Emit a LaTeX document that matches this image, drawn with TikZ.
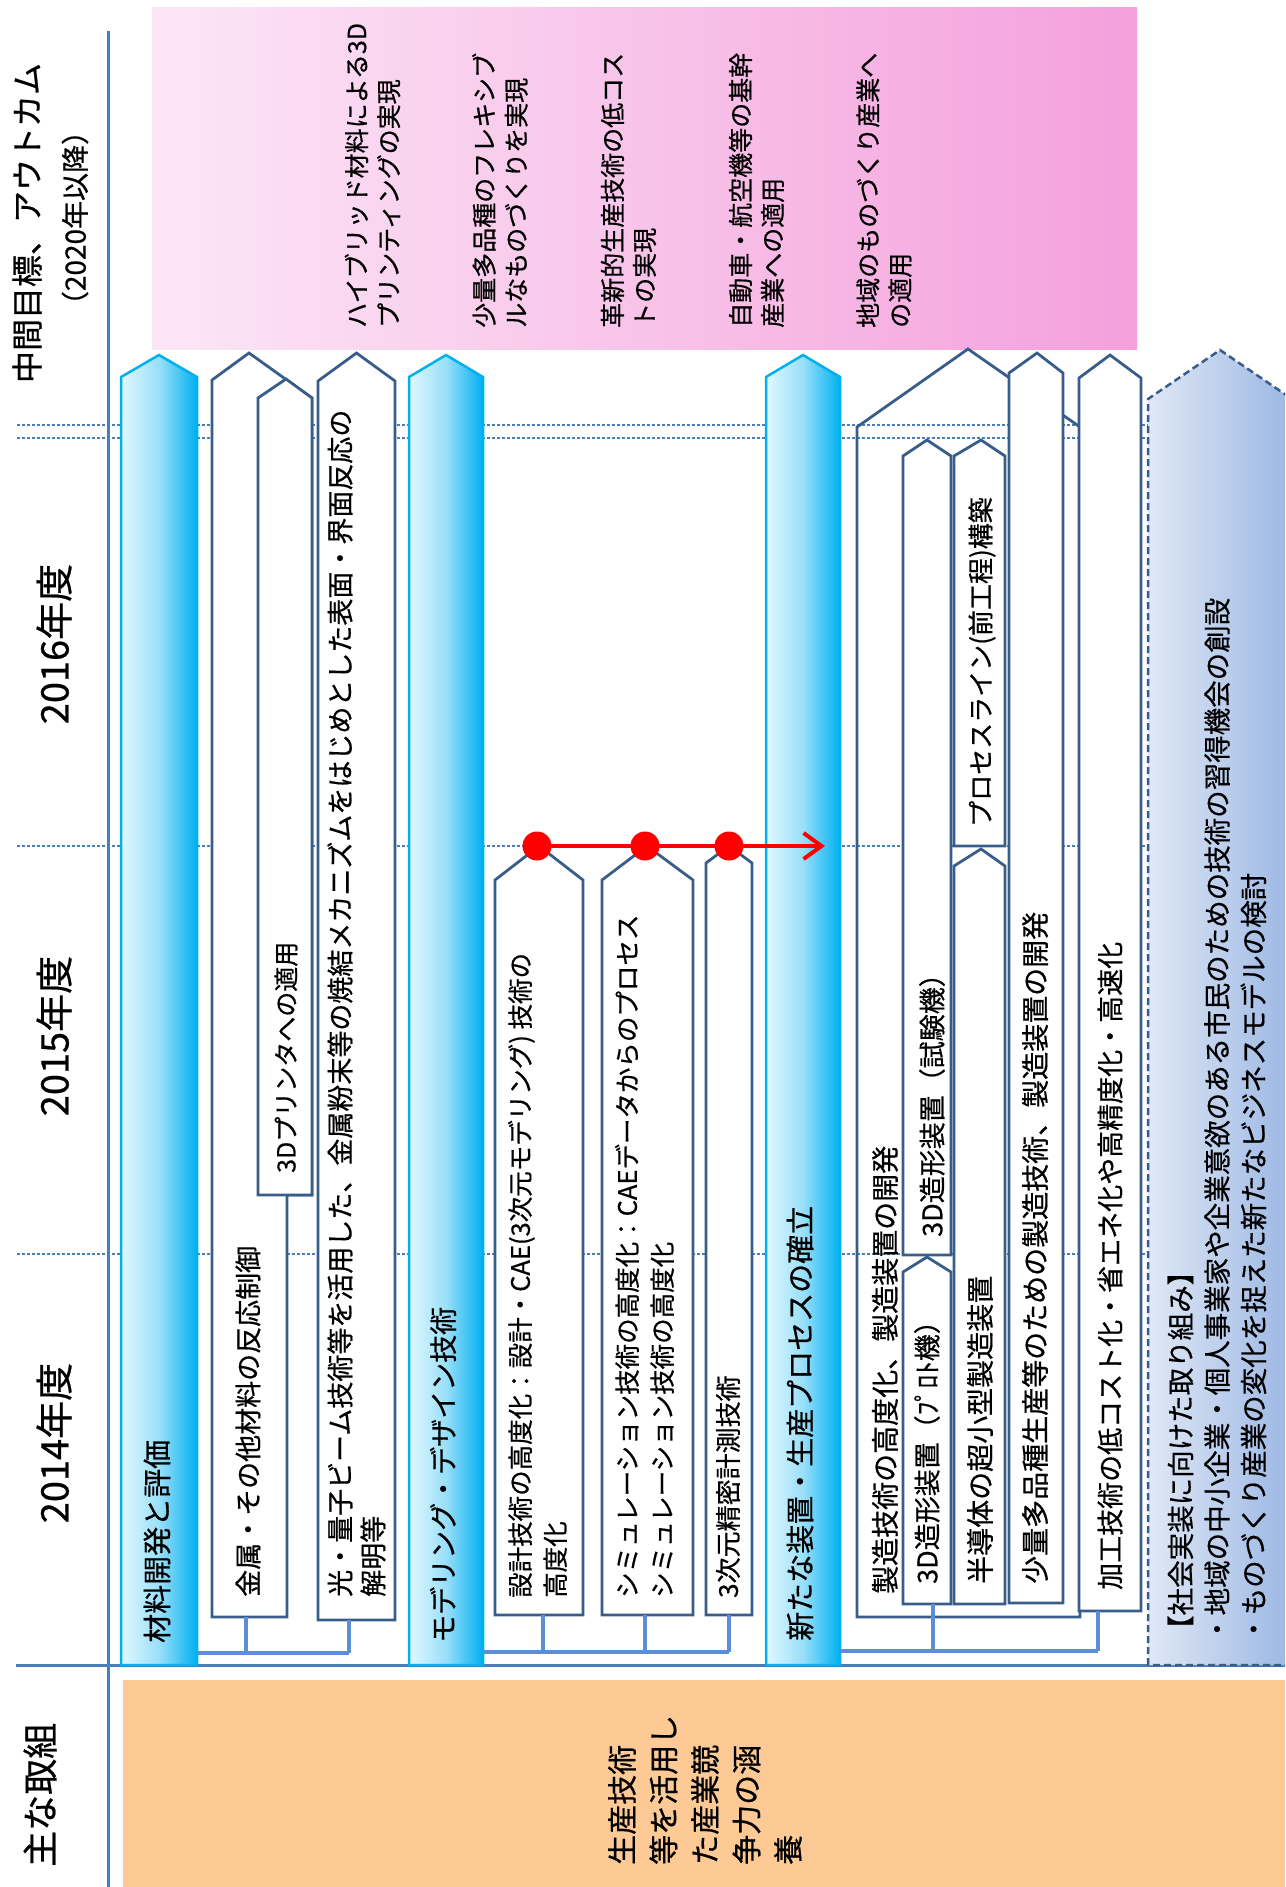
\documentclass[tikz,border=0pt]{standalone}
\usepackage{fontspec}
\setmainfont{Noto Sans CJK JP}[FakeBold=0.6]
\usetikzlibrary{arrows.meta}
\definecolor{axisblue}{RGB}{74,126,187}
\definecolor{boxblue}{RGB}{56,93,138}
\definecolor{connblue}{RGB}{91,142,214}
\definecolor{cyanbar}{RGB}{0,176,240}
\definecolor{cyanlight}{RGB}{226,248,255}
\definecolor{pinkL}{RGB}{252,230,246}
\definecolor{pinkR}{RGB}{244,160,220}
\definecolor{orangebg}{RGB}{253,202,150}
\definecolor{dashL}{RGB}{224,232,245}
\definecolor{dashR}{RGB}{155,183,228}
\newcommand\fsz[2]{\fontsize{#1}{#2}\selectfont}
\tikzset{
  axisline/.style={draw=axisblue, line width=3pt},
  gridline/.style={draw=axisblue, line width=2.5pt, dash pattern=on 2.5pt off 2.5pt},
  bar/.style={draw=cyanbar, line width=2.5pt, left color=cyanlight, right color=cyanbar, middle color=cyanbar!40!white},
  wbox/.style={draw=boxblue, line width=2.8pt, fill=white},
  obox/.style={draw=boxblue, line width=2.8pt},
  dbox/.style={draw=boxblue, line width=2.5pt, dash pattern=on 7pt off 4pt, left color=dashL, right color=dashR},
  conn/.style={draw=connblue, line width=4.5pt},
  redline/.style={draw=red, line width=4pt, -{Straight Barb[length=18pt,width=26pt,line width=4pt]}},
  reddot/.style={circle, fill=red, draw=none, minimum size=29pt, inner sep=0pt},
  vt/.style={rotate=90, anchor=west, inner sep=0pt, align=left, text=black},
  vc/.style={rotate=90, anchor=center, inner sep=0pt, align=center, text=black},
}
\begin{document}
\begin{tikzpicture}[x=1pt,y=-1pt]
\useasboundingbox (0,0) rectangle (1285,1887);
\clip (0,0) rectangle (1285,1887);
% backgrounds
\shade[left color=pinkL, right color=pinkR] (152,7) rectangle (1137,349);
\fill[orangebg] (123,1680) rectangle (1285,1887);
% axes
\draw[axisline] (108,31) -- (108,1887);
\draw[axisline] (16,1665) -- (1285,1665);
% year grid
\draw[gridline] (17,425) -- (1285,425);
\draw[gridline] (17,438) -- (1285,438);
\draw[gridline] (17,846) -- (1285,846);
\draw[gridline] (17,1254) -- (1285,1254);
% bars
\draw[bar] (121,1665) -- (121,377) -- (159,355) -- (197,377) -- (197,1665) -- cycle;
\draw[bar] (409,1665) -- (409,377) -- (446,355) -- (483,377) -- (483,1665) -- cycle;
\draw[bar] (766,1665) -- (766,377) -- (803,355) -- (840,377) -- (840,1665) -- cycle;
% group A boxes
\draw[wbox] (212,1617) -- (212,380) -- (249,353) -- (312,398) -- (312,1195) -- (287,1195) -- (287,1617) -- cycle;
\draw[wbox] (258,1195) -- (258,398) -- (286,379) -- (312,398) -- (312,1195) -- cycle;
\draw[wbox] (318,1620) -- (318,381) -- (356.5,353) -- (395,381) -- (395,1620) -- cycle;
% group B boxes
\draw[wbox] (495,1615) -- (495,880) -- (539,846) -- (583,880) -- (583,1615) -- cycle;
\draw[wbox] (602,1615) -- (602,880) -- (647,846) -- (693,880) -- (693,1615) -- cycle;
\draw[wbox] (706,1615) -- (706,863) -- (729,846) -- (752,863) -- (752,1615) -- cycle;
% group C boxes
\draw[obox] (857,1617) -- (857,427) -- (968,349) -- (1080,427) -- (1080,1617) -- cycle;
\draw[wbox] (903,1255) -- (903,456) -- (927,440) -- (951,456) -- (951,1255) -- cycle;
\draw[wbox] (903,1604) -- (903,1272) -- (927,1257) -- (951,1272) -- (951,1604) -- cycle;
\draw[wbox] (954,846) -- (954,456) -- (981,440) -- (1005,456) -- (1005,846) -- cycle;
\draw[wbox] (954,1604) -- (954,866) -- (981,849) -- (1005,866) -- (1005,1604) -- cycle;
\draw[wbox] (1009,1603) -- (1009,373) -- (1037,353) -- (1063,373) -- (1063,1603) -- cycle;
\draw[wbox] (1079,1611) -- (1079,378) -- (1110,355) -- (1141,378) -- (1141,1611) -- cycle;
% dashed social box
\draw[dbox] (1148,1665) -- (1148,399) -- (1220,350) -- (1292,399) -- (1292,1665) -- cycle;
% connector coordinates
\coordinate (Abar) at (197,1653);
\coordinate (A1b) at (246,1617);
\coordinate (A1j) at (246,1653);
\coordinate (A2b) at (349,1620);
\coordinate (A2j) at (349,1653);
\coordinate (Bbar) at (483,1652);
\coordinate (B1b) at (543,1615);
\coordinate (B1j) at (543,1652);
\coordinate (B2b) at (645,1615);
\coordinate (B2j) at (645,1652);
\coordinate (B3b) at (729,1615);
\coordinate (B3j) at (729,1652);
\coordinate (Cbar) at (840,1651);
\coordinate (C2b) at (933,1604);
\coordinate (C2j) at (933,1651);
\coordinate (C5b) at (1098,1611);
\coordinate (C5j) at (1098,1651);
\draw[conn] (Abar) -- (A2j);
\draw[conn] (A1b) -- (A1j);
\draw[conn] (A2b) -- (A2j);
\draw[conn] (Bbar) -- (B3j);
\draw[conn] (B1b) -- (B1j);
\draw[conn] (B2b) -- (B2j);
\draw[conn] (B3b) -- (B3j);
\draw[conn] (Cbar) -- (C5j);
\draw[conn] (C2b) -- (C2j);
\draw[conn] (C5b) -- (C5j);
% red milestone line
\coordinate (r1) at (537,846);
\coordinate (rend) at (825,846);
\draw[redline] (r1) -- (rend);
\node[reddot] (d1) at (537,846) {};
\node[reddot] (d2) at (645,846) {};
\node[reddot] (d3) at (729,846) {};
% header texts
\node[vc, font=\fsz{32}{38}] (hdr1) at (27,223) {中間目標、アウトカム};
\node[vc, font=\fsz{28}{34}] (hdr2) at (75,218) {（2020年以降）};
\node[vc, font=\fsz{38}{44}] (y16) at (54,644) {2016年度};
\node[vc, font=\fsz{38}{44}] (y15) at (54,1036) {2015年度};
\node[vc, font=\fsz{38}{44}] (y14) at (54,1443) {2014年度};
\node[vt, font=\fsz{36}{42}] (main) at (40,1867) {主な取組};
\node[vt, font=\fsz{30}{41.5}] (goal) at (705,1865) {生産技術\\等を活用し\\た産業競\\争力の涵\\養};
% outcomes
\node[vt, font=\fsz{25}{32}] (o1) at (372.5,328) {ハイブリッド材料による3D\\プリンティングの実現};
\node[vt, font=\fsz{25}{32}] (o2) at (500,328) {少量多品種のフレキシブ\\ルなものづくりを実現};
\node[vt, font=\fsz{25}{32}] (o3) at (628.5,328) {革新的生産技術の低コス\\トの実現};
\node[vt, font=\fsz{25}{32}] (o4) at (756.5,328) {自動車・航空機等の基幹\\産業への適用};
\node[vt, font=\fsz{25}{32}] (o5) at (884,328) {地域のものづくり産業へ\\の適用};
% bar texts
\node[vt, font=\fsz{29}{34}] (tA) at (157,1643) {材料開発と評価};
\node[vt, font=\fsz{28}{34}] (tB) at (443,1643) {モデリング・デザイン技術};
\node[vt, font=\fsz{29}{34}] (tC) at (800,1641) {新たな装置・生産プロセスの確立};
% box texts
\node[vt, font=\fsz{27}{33}] (tA1) at (248,1597) {金属・その他材料の反応制御};
\node[vt, font=\fsz{25}{32}] (tA1i) at (286,1173) {3Dプリンタへの適用};
\node[vt, font=\fsz{27}{33}] (tA2) at (356.5,1597) {光・量子ビーム技術等を活用した、金属粉末等の焼結メカニズムをはじめとした表面・界面反応の\\解明等};
\node[vt, font=\fsz{25.5}{35}] (tB1) at (537.5,1598) {設計技術の高度化：設計・CAE(3次元モデリング) 技術の\\高度化};
\node[vt, font=\fsz{25.5}{35}] (tB2) at (644.5,1598) {シミュレーション技術の高度化：CAEデータからのプロセス\\シミュレーション技術の高度化};
\node[vt, font=\fsz{26}{32}] (tB3) at (728,1598) {3次元精密計測技術};
\node[vt, font=\fsz{28}{34}] (tC1) at (885,1594) {製造技術の高度化、製造装置の開発};
\node[vt, font=\fsz{27}{33}] (tC2a) at (932,1237) {3D造形装置（試験機）};
\node[vt, font=\fsz{27}{33}] (tC2b) at (927,1584) {3D造形装置（ﾌﾟﾛﾄ機）};
\node[vt, font=\fsz{26}{32}] (tC3a) at (982,827) {プロセスライン(前工程)構築};
\node[vt, font=\fsz{28}{34}] (tC3b) at (980,1584) {半導体の超小型製造装置};
\node[vt, font=\fsz{28}{34}] (tC4) at (1035,1584) {少量多品種生産等のための製造技術、製造装置の開発};
\node[vt, font=\fsz{27}{33}] (tC5) at (1110,1590) {加工技術の低コスト化・省エネ化や高精度化・高速化};
\node[vt, font=\fsz{27.5}{36.5}] (tD) at (1217,1643) {【社会実装に向けた取り組み】\\・地域の中小企業・個人事業家や企業意欲のある市民のための技術の習得機会の創設\\・ものづくり産業の変化を捉えた新たなビジネスモデルの検討};
\end{tikzpicture}
\end{document}
